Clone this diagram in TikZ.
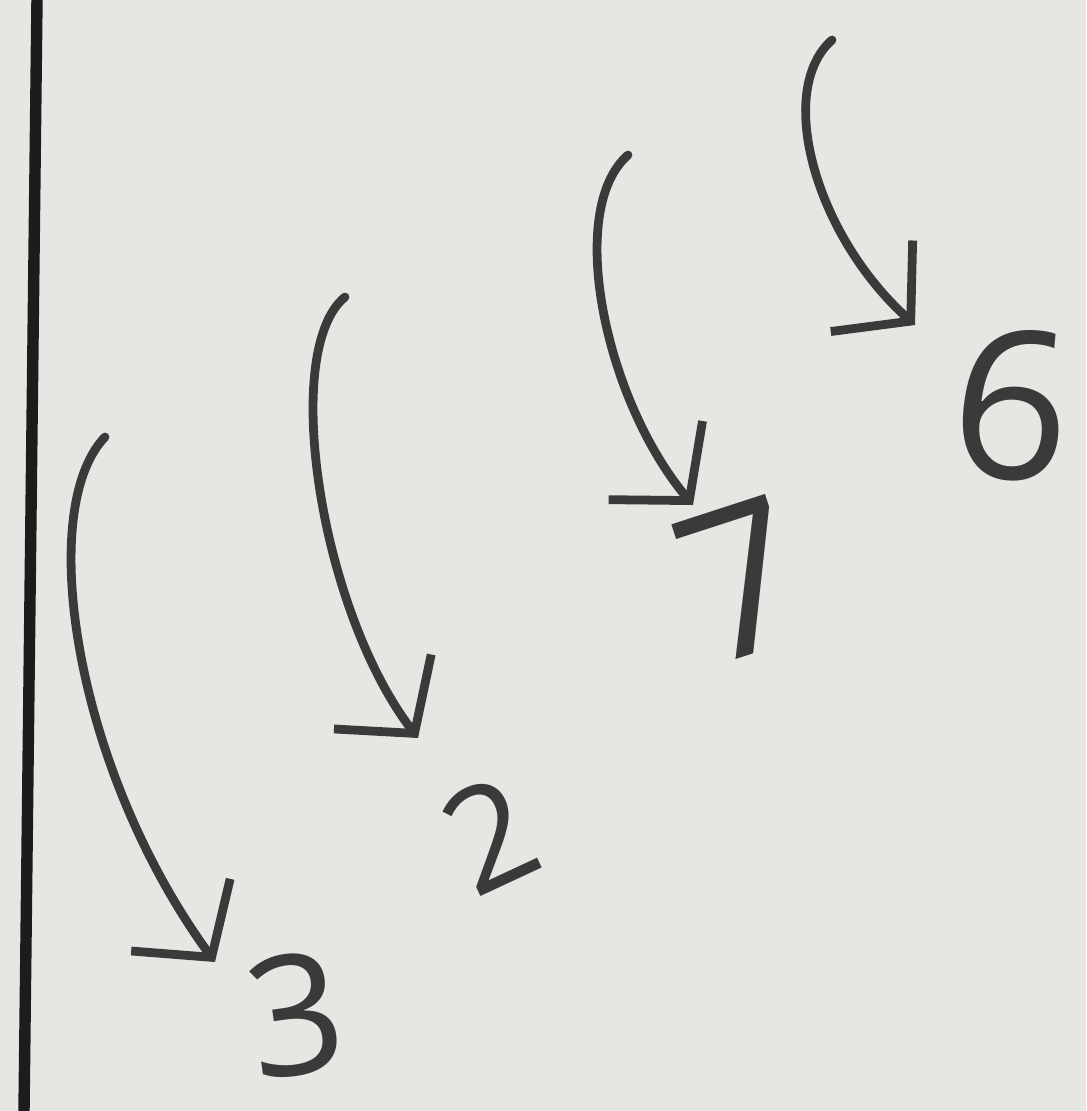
\documentclass[tikz,border=0pt]{standalone}
\usepackage{fontspec}
\setmainfont{Open Sans}
\usepackage{tikz}
\usetikzlibrary{arrows.meta}
\usetikzlibrary{positioning}
\definecolor{paper}{HTML}{E6E6E3}
\definecolor{pencil}{HTML}{3A3A3A}
\definecolor{inkrule}{HTML}{1C1C1C}
\tikzset{
  jump arrow/.style={
    draw=pencil, line width=5pt, line cap=round, line join=round,
    -{Straight Barb[length=1.05cm, width=2.45cm]}
  },
  digit/.style={text=pencil, inner sep=0pt, anchor=center},
  margin rule/.style={draw=inkrule, line width=6.5pt}
}
\newcommand{\DigitSize}[1]{\fontsize{#1pt}{#1pt}\selectfont}

\begin{document}
\begin{tikzpicture}[x=0.02cm, y=-0.02cm]
    \fill[paper] (0,0) rectangle (1086,1111);
    \useasboundingbox (0,0) rectangle (1086,1111);
    % margin line on the left
    \coordinate (rule-top) at (37,0);
    \coordinate (rule-bottom) at (24,1111);
    \draw[margin rule] (rule-top) -- (rule-bottom);
    % one curved arrow per digit: start / first control / second control / tip
    \foreach \n/\s/\a/\b/\t in {
        3/{(105,437)}/{(35,510)}/{(75,770)}/{(215,962)},
        2/{(345,297)}/{(280,350)}/{(320,610)}/{(418,738)},
        7/{(628,155)}/{(565,210)}/{(605,400)}/{(693,505)},
        6/{(832,40)}/{(775,90)}/{(815,235)}/{(915,325)}} {
        \path \s coordinate (jump-start-\n);
        \path \t coordinate (jump-tip-\n);
        \draw[jump arrow] (jump-start-\n) .. controls \a and \b .. (jump-tip-\n);
    }
    % the handwritten digits
    \foreach \n/\pos/\rot/\size in {
        3/{(295,1015)}/8/95,
        2/{(490,835)}/25/82,
        7/{(742,580)}/18/118,
        6/{(1012,405)}/-5/118} {
        \path \pos node[digit, rotate=\rot, font=\DigitSize{\size}] (digit-\n) {\n};
    }
\end{tikzpicture}
\end{document}
